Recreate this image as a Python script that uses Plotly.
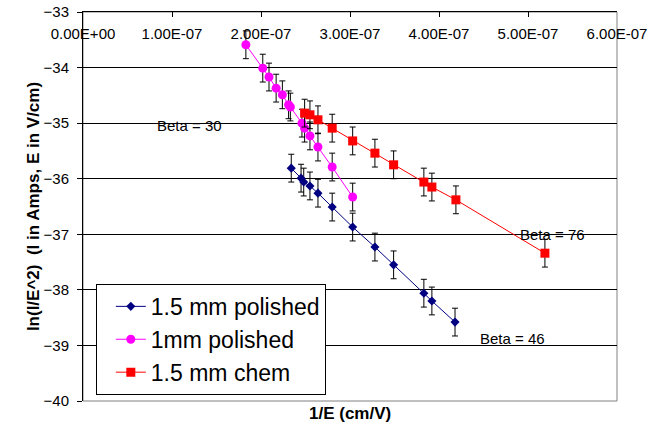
import plotly.graph_objects as go

# ---- data ----
x_ticks = [0, 1e-7, 2e-7, 3e-7, 4e-7, 5e-7, 6e-7]
x_tick_labels = ["0.00E+00", "1.00E-07", "2.00E-07", "3.00E-07", "4.00E-07", "5.00E-07", "6.00E-07"]
y_ticks = [-40, -39, -38, -37, -36, -35, -34, -33]

blue_x = [2.34e-7, 2.45e-7, 2.48e-7, 2.55e-7, 2.64e-7, 2.80e-7, 3.03e-7, 3.28e-7, 3.49e-7, 3.83e-7, 3.92e-7, 4.18e-7]
blue_y = [-35.81, -35.99, -36.06, -36.13, -36.26, -36.51, -36.87, -37.23, -37.55, -38.06, -38.20, -38.58]

pink_x = [1.83e-7, 2.02e-7, 2.09e-7, 2.17e-7, 2.24e-7, 2.31e-7, 2.33e-7, 2.46e-7, 2.49e-7, 2.55e-7, 2.64e-7, 2.80e-7, 3.03e-7]
pink_y = [-33.59, -34.01, -34.17, -34.37, -34.49, -34.67, -34.71, -35.00, -35.09, -35.23, -35.43, -35.79, -36.33]

red_x = [2.49e-7, 2.55e-7, 2.64e-7, 2.80e-7, 3.03e-7, 3.28e-7, 3.49e-7, 3.83e-7, 3.92e-7, 4.19e-7, 5.19e-7]
red_y = [-34.82, -34.85, -34.94, -35.09, -35.32, -35.54, -35.75, -36.06, -36.15, -36.38, -37.34]

err = 0.25

beta_text = ["Beta = 30", "Beta = 76", "Beta = 46"]
beta_x = [1.20e-7, 5.27e-7, 4.83e-7]
beta_y = [-35.05, -37.0, -38.88]

FONT = "Liberation Sans, Arial, sans-serif"

fig = go.Figure()

def add(name, xs, ys, color, symbol, size):
    fig.add_trace(go.Scatter(
        x=xs, y=ys, name=name, mode="lines+markers",
        line=dict(color=color, width=1),
        marker=dict(color=color, symbol=symbol, size=size, line=dict(width=0)),
        error_y=dict(type="constant", value=err, color="black", thickness=1, width=3),
        legendgroup=name,
    ))

add("1.5 mm polished", blue_x, blue_y, "#000080", "diamond", 7)
add("1mm polished", pink_x, pink_y, "#FF00FF", "circle", 9)
add("1.5 mm chem", red_x, red_y, "#FF0000", "square", 9)

for t, bx, by in zip(beta_text, beta_x, beta_y):
    fig.add_annotation(x=bx, y=by, xref="x", yref="y", text=t, showarrow=False,
                       font=dict(family=FONT, size=15, color="black"))

# axis titles
fig.add_annotation(x=0.5, y=-0.031, xref="paper", yref="paper", text="<b>1/E (cm/V)</b>",
                   showarrow=False, yanchor="middle", font=dict(family=FONT, size=17, color="black"))
fig.add_annotation(x=-0.114, y=0.5, xref="paper", yref="paper",
                   text="<b>ln(I/E^2)  (I in Amps, E in V/cm)</b>", textangle=-90,
                   showarrow=False, font=dict(family=FONT, size=17, color="black"))

# plot area border (gray)
fig.add_shape(type="rect", xref="paper", yref="paper", x0=0, x1=1, y0=0, y1=1,
              line=dict(color="#808080", width=1), layer="below")

fig.update_layout(
    width=663, height=431,
    margin=dict(l=83, r=46, t=12, b=30, autoexpand=False),
    paper_bgcolor="white", plot_bgcolor="white",
    font=dict(family=FONT, size=15, color="black"),
    showlegend=True,
    legend=dict(x=0.024, y=0.301, xanchor="left", yanchor="top",
                bgcolor="white", bordercolor="black", borderwidth=1,
                font=dict(family=FONT, size=23, color="black"),
                tracegroupgap=0, traceorder="normal", indentation=14,
                entrywidth=191, entrywidthmode="pixels"),
    xaxis=dict(range=[0, 6e-7], side="top", tickvals=x_ticks, ticktext=x_tick_labels,
               ticks="inside", ticklen=5, tickcolor="black", showline=True, linecolor="black",
               linewidth=1, showgrid=False, zeroline=False, ticklabelstandoff=-34,
               automargin=False,
               tickfont=dict(family=FONT, size=15, color="black")),
    yaxis=dict(range=[-40, -33], tickvals=y_ticks, ticks="outside", ticklen=5, tickcolor="black",
               showline=True, linecolor="black", linewidth=1, showgrid=True, gridcolor="black",
               gridwidth=1, zeroline=False, ticklabelstandoff=5, automargin=False,
               tickfont=dict(family=FONT, size=15, color="black")),
)

fig.write_html("out.html", config={"displayModeBar": False},
               post_script="document.body.style.margin='0px';document.body.style.overflow='hidden';")
